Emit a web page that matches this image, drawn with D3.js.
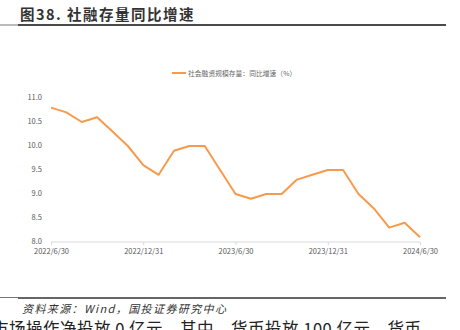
<!DOCTYPE html>
<html>
<head>
<meta charset="utf-8">
<script src="https://cdn.jsdelivr.net/npm/d3@7/dist/d3.min.js"></script>
<style>
  html, body { margin: 0; padding: 0; background: #fff; }
  svg { display: block; }
</style>
</head>
<body>
<svg id="chart" width="460" height="330"></svg>
<script>
// Monthly year-on-year growth of outstanding total social financing (%), 2022/6 – 2024/6
const months = [
  "2022-06","2022-07","2022-08","2022-09","2022-10","2022-11","2022-12",
  "2023-01","2023-02","2023-03","2023-04","2023-05","2023-06",
  "2023-07","2023-08","2023-09","2023-10","2023-11","2023-12",
  "2024-01","2024-02","2024-03","2024-04","2024-05","2024-06"
];
const growth = [
  10.8,10.7,10.5,10.6,10.3,10.0,9.6,
  9.4,9.9,10.0,10.0,9.5,9.0,
  8.9,9.0,9.0,9.3,9.4,9.5,
  9.5,9.0,8.7,8.3,8.4,8.1
];
const xTickMonths = ["2022-06","2022-12","2023-06","2023-12","2024-06"];
const xTickLabels = ["2022/6/30","2022/12/31","2023/6/30","2023/12/31","2024/6/30"];
const yTicks = [8.0, 8.5, 9.0, 9.5, 10.0, 10.5, 11.0];
const seriesName = "社会融资规模存量：同比增速（%）";

const svg = d3.select("#chart");
const sans = "'Noto Sans CJK SC', 'Noto Sans', sans-serif";

// Title and rules of the figure frame
svg.append("text")
  .attr("x", 20).attr("y", 20)
  .attr("font-family", sans).attr("font-weight", "bold")
  .attr("font-size", 14.5).attr("letter-spacing", 1.5).attr("fill", "#333")
  .text("图38. 社融存量同比增速");
svg.append("line").attr("x1", 0).attr("x2", 18).attr("y1", 25).attr("y2", 25)
  .attr("stroke", "#777").attr("stroke-width", 1);
svg.append("line").attr("x1", 18).attr("x2", 446).attr("y1", 25).attr("y2", 25)
  .attr("stroke", "#4a4a4a").attr("stroke-width", 2);

const x = d3.scalePoint().domain(months).range([51, 420]);
const y = d3.scaleLinear().domain([8, 11]).range([242, 98]);

// Y axis labels (no axis line)
const yAxis = d3.axisLeft(y).tickValues(yTicks).tickFormat(d3.format(".1f")).tickSize(0).tickPadding(0);
const gy = svg.append("g").attr("transform", "translate(42,-1)").call(yAxis);
gy.select(".domain").remove();
gy.selectAll("text").attr("font-family", sans).attr("font-size", 7.5).attr("fill", "#595959");

// X axis
const xAxis = d3.axisBottom(x).tickValues(xTickMonths)
  .tickFormat((d, i) => xTickLabels[i]).tickSize(3).tickPadding(4);
const gx = svg.append("g").attr("transform", "translate(0,242)").call(xAxis);
gx.select(".domain").attr("stroke", "#d9d9d9").attr("d", "M51,0H420");
gx.selectAll(".tick line").attr("stroke", "#d9d9d9");
gx.selectAll("text").attr("font-family", sans).attr("font-size", 7.5).attr("fill", "#595959");

// Series line
const line = d3.line().x((d, i) => x(months[i])).y(d => y(d));
svg.append("path").datum(growth)
  .attr("d", line).attr("fill", "none")
  .attr("stroke", "#F79A4C").attr("stroke-width", 2)
  .attr("stroke-linejoin", "round");

// Legend
svg.append("line").attr("x1", 172).attr("x2", 186).attr("y1", 73).attr("y2", 73)
  .attr("stroke", "#F79A4C").attr("stroke-width", 2);
svg.append("text").attr("x", 188).attr("y", 75.5)
  .attr("font-family", sans).attr("font-size", 6.8).attr("fill", "#666")
  .text(seriesName);

// Bottom rule, source note and following body text
svg.append("line").attr("x1", 0).attr("x2", 18).attr("y1", 297.5).attr("y2", 297.5)
  .attr("stroke", "#777").attr("stroke-width", 1);
svg.append("line").attr("x1", 18).attr("x2", 446).attr("y1", 298).attr("y2", 298)
  .attr("stroke", "#333").attr("stroke-width", 1.5);
svg.append("text").attr("x", 22).attr("y", 313)
  .attr("font-family", sans).attr("font-style", "italic")
  .attr("font-size", 11).attr("letter-spacing", 1.4).attr("fill", "#333")
  .text("资料来源：Wind，国投证券研究中心");
svg.append("text").attr("x", -8).attr("y", 335)
  .attr("font-family", sans).attr("font-size", 16.5).attr("letter-spacing", 0.5).attr("fill", "#222")
  .text("市场操作净投放 0 亿元，其中，货币投放 100 亿元，货币");
</script>
</body>
</html>
